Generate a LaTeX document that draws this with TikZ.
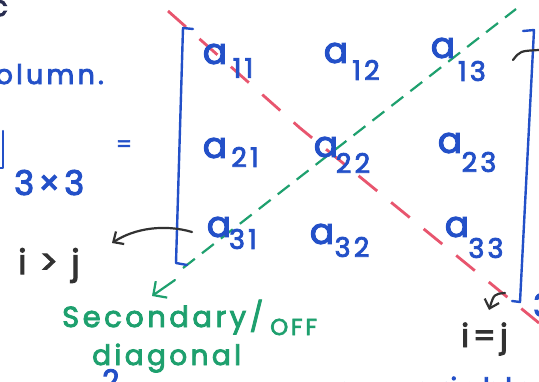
\documentclass[tikz,border=0pt]{standalone}
\usepackage{fontspec}
\setmainfont{Poppins}
\newfontfamily\hand[LetterSpace=12,FakeBold=3]{Poppins}
\newfontfamily\handb[FakeBold=3]{Poppins}
\usetikzlibrary{arrows.meta}
\definecolor{inkblue}{RGB}{35,80,200}
\definecolor{inkred}{RGB}{232,85,110}
\definecolor{inkgreen}{RGB}{30,160,110}
\definecolor{inkblack}{RGB}{50,50,50}
\definecolor{inkdark}{RGB}{40,45,80}
\begin{document}
\begin{tikzpicture}[x=1pt,y=-1pt,
  ent/.style={text=inkblue, font=\handb\fontsize{36}{36}\selectfont, inner sep=0pt},
  sub/.style={text=inkblue, font=\hand\fontsize{27}{27}\selectfont, inner sep=0pt},
  btext/.style={text=inkblue, inner sep=0pt},
  gtext/.style={text=inkgreen, inner sep=0pt},
  ktext/.style={text=inkblack, inner sep=0pt},
  bracket/.style={draw=inkblue, line width=2.4pt, line cap=round, line join=round},
  maindiag/.style={draw=inkred, line width=2.8pt, dash pattern=on 24pt off 18pt},
  offdiag/.style={draw=inkgreen, line width=2.2pt, dash pattern=on 15pt off 9pt},
  karrow/.style={draw=inkblack, line width=2.2pt, line cap=round, -{Straight Barb[length=8pt,width=15pt]}},
  garrow/.style={draw=inkgreen, line width=2.2pt, line cap=round, -{Straight Barb[length=10pt,width=20pt]}}
]
\useasboundingbox (0,0) rectangle (539,381);
\clip (0,0) rectangle (539,381);
\fill[white] (0,0) rectangle (539,381);

% diagonals
\coordinate (r0) at (168,11);
\coordinate (r1) at (300,128);
\coordinate (r2) at (539,323);
\draw[maindiag] (r0) -- (r1) -- (r2);
\coordinate (g0) at (183,268);
\coordinate (g1) at (516,9);
\draw[offdiag] (g0) -- (g1);

% brackets
\draw[bracket] (193,29) -- (183,28) -- (176,263) -- (187,265);
\draw[bracket] (523,31) -- (534,30) -- (520,302) -- (512,301);

% entries
\node[ent] (a11) at (215,54) {a};  \node[sub] (s11) at (243,68) {11};
\node[ent] (a12) at (336,53) {a};  \node[sub] (s12) at (366,70) {12};
\node[ent] (a13) at (443,48) {a};  \node[sub] (s13) at (472,71) {13};
\node[ent] (a21) at (215,148) {a}; \node[sub] (s21) at (245,157) {21};
\node[ent] (a22) at (326,147) {a}; \node[sub] (s22) at (353,163) {22};
\node[ent] (a23) at (450,143) {a}; \node[sub] (s23) at (479,162) {23};
\node[ent] (a31) at (219,227) {a}; \node[sub] (s31) at (243,239) {31};
\node[ent] (a32) at (322,234) {a}; \node[sub] (s32) at (352,247) {32};
\node[ent] (a33) at (457,227) {a}; \node[sub] (s33) at (486,248) {33};

% left-side texts
\node[text=inkdark, inner sep=0pt, font=\hand\fontsize{28}{28}\selectfont, anchor=base east] (cfrag) at (8,16) {c};
\node[btext, font=\hand\fontsize{27}{27}\selectfont, anchor=base east] (column) at (104,84) {olumn.};
\draw[bracket] (3,131) -- (3,168) -- (0,168);
\node[btext, font=\hand\fontsize{34}{34}\selectfont, anchor=base west] (order) at (14,195) {3×3};
\node[btext, font=\handb\fontsize{22}{22}\selectfont] (eq) at (124,146) {=};

% i>j
\node[ktext, font=\hand\fontsize{34}{34}\selectfont, anchor=base west] (igtj) at (18,274) {i > j};
\coordinate (p31) at (192,232);
\coordinate (tgt) at (112,243);
\draw[karrow] (p31) .. controls (165,224) and (135,228) .. (tgt);

% secondary label
\coordinate (gs) at (175,280);
\coordinate (gt) at (152,296);
\draw[garrow] (gs) -- (gt);
\node[gtext, font=\hand\fontsize{29}{29}\selectfont, anchor=base west] (sec) at (62,327) {Secondary/};
\node[gtext, font=\hand\fontsize{23}{23}\selectfont, anchor=base west] (off) at (270,335) {OFF};
\node[gtext, font=\hand\fontsize{28}{28}\selectfont, anchor=base west] (diag) at (92,365) {diagonal};

% i=j
\node[ktext, font=\hand\fontsize{32}{32}\selectfont, anchor=base west] (ieqj) at (461,347) {i=j};
\coordinate (p33) at (505,293);
\coordinate (teq) at (489,310);
\draw[karrow] (p33) .. controls (494,294) .. (teq);

% fragments at edges
\draw[draw=inkblack, line width=2.2pt, line cap=round] (513,60) .. controls (520,51) .. (539,50);
\node[btext, font=\hand\fontsize{32}{32}\selectfont, anchor=west] (rthree) at (533,305) {3};
\node[btext, font=\hand\fontsize{30}{30}\selectfont, anchor=north west] (btwo) at (102,369) {2};
\node[btext, font=\hand\fontsize{28}{28}\selectfont, anchor=base west] (ba) at (336,398) {a};
\node[btext, font=\hand\fontsize{28}{28}\selectfont, anchor=base west] (bvar) at (395,398) {variable};
\end{tikzpicture}
\end{document}
